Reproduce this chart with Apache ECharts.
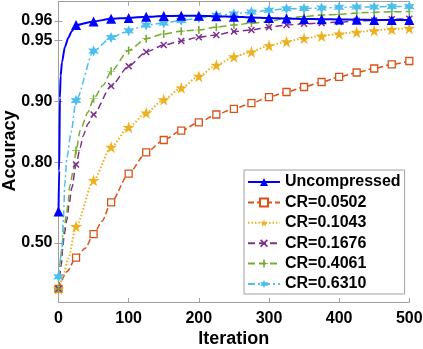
<!DOCTYPE html>
<html>
<head>
<meta charset="utf-8">
<script src="https://cdn.jsdelivr.net/npm/echarts@6/dist/echarts.min.js"></script>
<style>
  html, body { margin: 0; padding: 0; background: #fff; }
  #chart { width: 423px; height: 349px; }
</style>
</head>
<body>
<div id="chart"></div>
<script>
// values (iteration, accuracy)
const unItr = [0, 1, 2, 3, 5, 9, 14, 19, 25, 50, 75, 100, 125, 150, 175, 200, 225, 250, 275, 300, 325, 350, 375, 400, 425, 450, 475, 500];
const unAcc = [0.650, 0.780, 0.904, 0.925, 0.936, 0.946, 0.9515, 0.955, 0.958, 0.9597, 0.9609, 0.9613, 0.9618, 0.9621, 0.9622, 0.9622, 0.9620, 0.9618, 0.9615, 0.9612, 0.9610, 0.9608, 0.9607, 0.9606, 0.9605, 0.9604, 0.9604, 0.9603];

const c1Itr = [0, 12, 25, 38, 50, 62, 75, 100, 125, 150, 175, 200, 225, 250, 275, 300, 325, 350, 375, 400, 425, 450, 475, 500];
const c1Acc = [0.158, 0.307, 0.410, 0.469, 0.548, 0.609, 0.685, 0.7726, 0.8213, 0.8449, 0.8606, 0.8732, 0.8839, 0.8912, 0.898, 0.9048, 0.9101, 0.9151, 0.9198, 0.9243, 0.928, 0.9312, 0.9343, 0.9368];

const c2Itr = [0, 7, 14, 25, 50, 75, 100, 125, 150, 175, 200, 225, 250, 275, 300, 325, 350, 375, 400, 425, 450, 475, 500];
const c2Acc = [0.158, 0.282, 0.405, 0.586, 0.7547, 0.832, 0.8657, 0.8862, 0.902, 0.9143, 0.9249, 0.9338, 0.9398, 0.9431, 0.947, 0.9493, 0.9512, 0.9525, 0.9536, 0.9545, 0.9553, 0.956, 0.9565];

const c3Itr = [0, 4, 6, 8, 12, 15, 19, 25, 31, 35, 42, 50, 75, 100, 125, 150, 175, 200, 225, 250, 275, 300, 325, 350, 375, 400, 425, 450, 475, 500];
const c3Acc = [0.158, 0.360, 0.470, 0.545, 0.617, 0.677, 0.733, 0.795, 0.831, 0.852, 0.871, 0.884, 0.916, 0.933, 0.943, 0.9473, 0.9497, 0.9518, 0.953, 0.9548, 0.9556, 0.957, 0.958, 0.9586, 0.959, 0.9594, 0.960, 0.9601, 0.9607, 0.9609];

const c4Itr = [0, 2, 5, 7, 11, 14, 16, 21, 25, 31, 42, 50, 64, 75, 100, 125, 150, 175, 200, 225, 250, 275, 300, 325, 350, 375, 400, 425, 450, 475, 500];
const c4Acc = [0.158, 0.370, 0.470, 0.553, 0.631, 0.689, 0.738, 0.780, 0.825, 0.861, 0.887, 0.903, 0.917, 0.929, 0.944, 0.951, 0.9535, 0.955, 0.9556, 0.957, 0.958, 0.9589, 0.9597, 0.9612, 0.9619, 0.9625, 0.9628, 0.9634, 0.9637, 0.9639, 0.964];

const c5Itr = [0, 5, 7, 9, 12, 18, 25, 50, 75, 100, 125, 150, 175, 200, 225, 250, 275, 300, 325, 350, 375, 400, 425, 450, 475, 500];
const c5Acc = [0.266, 0.460, 0.624, 0.744, 0.811, 0.858, 0.901, 0.9436, 0.9516, 0.9552, 0.958, 0.959, 0.9601, 0.9612, 0.9624, 0.963, 0.9638, 0.9645, 0.9651, 0.9652, 0.9654, 0.9657, 0.9658, 0.9658, 0.966, 0.966];

const yTicks = [0.50, 0.80, 0.90, 0.95, 0.96];
const xTicks = [0, 100, 200, 300, 400, 500];

// the accuracy axis is logarithmic in the error (1 - accuracy)
const toY = a => -Math.log10(1 - a);
const fromY = v => 1 - Math.pow(10, -v);

const FONT = 'Liberation Sans, Arial, sans-serif';
const STAR = 'path://M50,0 L61,35 L98,35 L68,57 L79,91 L50,70 L21,91 L32,57 L2,35 L39,35 Z';
const HEX = 'path://M50,0 L62,29 L93,25 L74,50 L93,75 L62,71 L50,100 L38,71 L7,75 L26,50 L7,25 L38,29 Z';
const CROSS = 'path://M0,15 L15,0 L50,35 L85,0 L100,15 L65,50 L100,85 L85,100 L50,65 L15,100 L0,85 L35,50 Z';
const VBAR = 'path://M40,0 L60,0 L60,100 L40,100 Z M0,46 L100,46 L100,54 L0,54 Z';

function makeSeries(name, itr, acc, color, dash, width, symbol, size, fill, z) {
  return {
    name: name,
    type: 'line',
    z: z,
    smooth: 0.25,
    smoothMonotone: 'x',
    symbol: symbol,
    symbolSize: size,
    showSymbol: true,
    data: itr.map((it, i) => it % 25 === 0
      ? [it, toY(acc[i])]
      : { value: [it, toY(acc[i])], symbol: 'none' }),
    lineStyle: { color: color, width: width, type: dash },
    itemStyle: { color: fill, borderColor: color, borderWidth: fill === color ? 0 : 1.3 }
  };
}

const chart = echarts.init(document.getElementById('chart'));
const yMin = toY(0.022), yMax = toY(0.9678);

chart.setOption({
  animation: false,
  backgroundColor: '#fff',
  grid: { left: 58.5, right: 13.7, top: 1.7, bottom: 47, outerBoundsMode: 'none', containLabel: false },
  // axis titles
  graphic: [{
    type: 'text', x: 233.7, y: 339, z: 10,
    style: { text: 'Iteration', fill: '#000', font: 'bold 18px ' + FONT, align: 'center', verticalAlign: 'middle' }
  }, {
    type: 'text', x: 10, y: 151, rotation: Math.PI / 2, z: 10,
    style: { text: 'Accuracy', fill: '#000', font: 'bold 18px ' + FONT, align: 'center', verticalAlign: 'middle' }
  }],
  xAxis: [{
    type: 'value', min: 0, max: 500, interval: 100,
    axisLine: { lineStyle: { color: '#a0a0a0' } },
    axisTick: { inside: true, length: 4, lineStyle: { color: '#a0a0a0' } },
    axisLabel: { margin: 9, fontFamily: FONT, fontWeight: 'bold', fontSize: 16, color: '#000',
      customValues: xTicks },
    splitLine: { show: false }
  }, {
    type: 'value', position: 'top', min: 0, max: 500, interval: 100,
    axisLine: { lineStyle: { color: '#a0a0a0' } },
    axisTick: { inside: true, length: 4, lineStyle: { color: '#a0a0a0' } },
    axisLabel: { show: false },
    splitLine: { show: false }
  }],
  yAxis: [{
    type: 'value', min: yMin, max: yMax,
    axisLine: { show: true, lineStyle: { color: '#a0a0a0' } },
    axisTick: { inside: true, length: 4, lineStyle: { color: '#a0a0a0' }, customValues: yTicks.map(toY) },
    axisLabel: { margin: 6, fontFamily: FONT, fontWeight: 'bold', fontSize: 16, color: '#000',
      customValues: yTicks.map(toY), formatter: v => fromY(v).toFixed(2) },
    splitLine: { show: false }
  }, {
    type: 'value', position: 'right', min: yMin, max: yMax,
    axisLine: { show: true, lineStyle: { color: '#a0a0a0' } },
    axisTick: { show: true, inside: true, length: 4, lineStyle: { color: '#a0a0a0' }, customValues: yTicks.map(toY) },
    axisLabel: { show: false, customValues: yTicks.map(toY) },
    splitLine: { show: false }
  }],
  legend: {
    orient: 'vertical', left: 244, top: 170,
    padding: [4, 4, 2, 3],
    itemWidth: 32, itemHeight: 10, itemGap: 4.4,
    backgroundColor: '#fff', borderColor: '#a0a0a0', borderWidth: 1,
    textStyle: { fontFamily: FONT, fontWeight: 'bold', fontSize: 16, color: '#000' },
    data: ['Uncompressed', 'CR=0.0502', 'CR=0.1043', 'CR=0.1676', 'CR=0.4061', 'CR=0.6310']
  },
  series: [
    makeSeries('CR=0.0502', c1Itr, c1Acc, '#D95319', [6, 3], 1.5, 'rect', 7, '#fff', 3),
    makeSeries('CR=0.1043', c2Itr, c2Acc, '#EDB120', [1.5, 2], 2, STAR, 12, '#EDB120', 3),
    makeSeries('CR=0.1676', c3Itr, c3Acc, '#7E2F8E', [7, 4], 1.5, CROSS, 7, '#7E2F8E', 3),
    makeSeries('CR=0.4061', c4Itr, c4Acc, '#77AC30', [7, 4], 1.5, VBAR, 8, '#77AC30', 3),
    makeSeries('CR=0.6310', c5Itr, c5Acc, '#4DBEEE', [7, 3, 2, 3], 1.5, HEX, 11, '#4DBEEE', 3),
    makeSeries('Uncompressed', unItr, unAcc, '#0000FF', 'solid', 2, 'triangle', 10, '#0000FF', 4)
  ]
});
</script>
</body>
</html>
